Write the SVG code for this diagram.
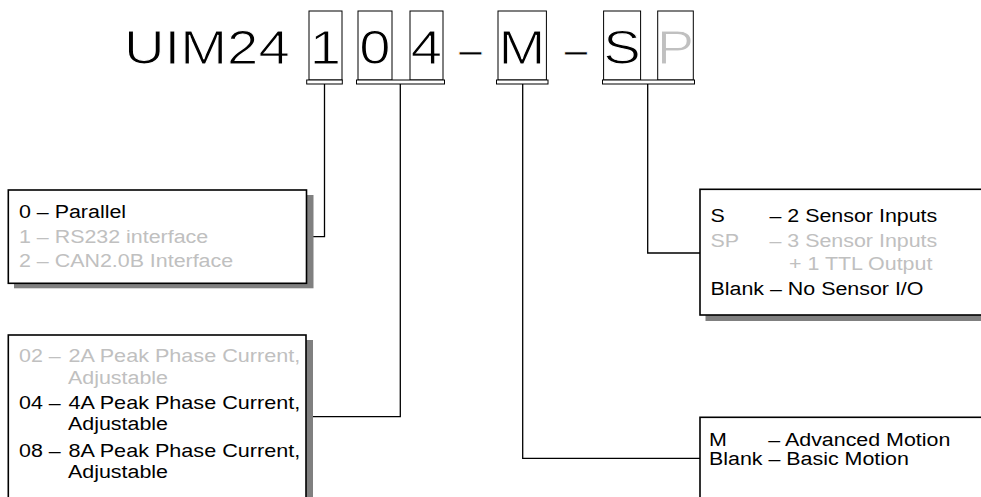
<svg xmlns="http://www.w3.org/2000/svg" width="981" height="497" viewBox="0 0 981 497">
<style>
.t{font-family:"Liberation Sans",Arial,sans-serif;font-size:18px;fill:#000}
.big{font-family:"Liberation Sans",Arial,sans-serif;font-size:48.5px;fill:#000;stroke:#fff;stroke-width:1.1}
.g,.big.g{fill:#c0c0c0}
.dbox{fill:none;stroke:#000;stroke-width:1}
.brk{fill:#fff;stroke:#000;stroke-width:1}
.box{fill:#fff;stroke:#000;stroke-width:1.6}
.sh{fill:#808080}
.con{fill:none;stroke:#000;stroke-width:1.3}
</style>
<rect width="981" height="497" fill="#fff"/>
<g id="code">
<text class="big" transform="translate(124,64) scale(1.16,1)">UIM24</text>
<rect class="dbox" x="309" y="11" width="33" height="69"/>
<rect class="dbox" x="358" y="11" width="34" height="69"/>
<rect class="dbox" x="410" y="11" width="33" height="69"/>
<rect class="dbox" x="498" y="11" width="48.4" height="69"/>
<rect class="dbox" x="603.6" y="11" width="37" height="69"/>
<rect class="dbox" x="657.7" y="11" width="35.6" height="69"/>
<text class="big" text-anchor="middle" transform="translate(325.5,64) scale(1.16,1)">1</text>
<text class="big" text-anchor="middle" transform="translate(375,64) scale(1.16,1)">0</text>
<text class="big" text-anchor="middle" transform="translate(426.5,64) scale(1.16,1)">4</text>
<text class="big" text-anchor="middle" transform="translate(470.5,65.5) scale(0.85,1)">–</text>
<text class="big" text-anchor="middle" transform="translate(522,64) scale(1.16,1)">M</text>
<text class="big" text-anchor="middle" transform="translate(576,65.5) scale(0.85,1)">–</text>
<text class="big" text-anchor="middle" transform="translate(622,64) scale(1.16,1)">S</text>
<text class="big g" text-anchor="middle" transform="translate(675.5,64) scale(1.16,1)">P</text>
<rect class="brk" x="306.7" y="80" width="35.6" height="4"/>
<rect class="brk" x="356.5" y="80" width="88" height="4"/>
<rect class="brk" x="496.5" y="80" width="51.5" height="4"/>
<rect class="brk" x="602.5" y="80" width="92" height="4"/>
</g>
<g id="connectors">
<path class="con" d="M324.5 84V236.7H306.5"/>
<path class="con" d="M400.3 84V416.7H306"/>
<path class="con" d="M522.7 84V458.3H700"/>
<path class="con" d="M647.7 84V253H700"/>
</g>
<g id="interface">
<rect class="sh" x="14" y="195" width="299.5" height="93.3"/>
<rect class="box" x="8.3" y="190" width="298.2" height="93.3"/>
<text class="t" transform="translate(19,217.5) scale(1.19,1)">0 – Parallel</text>
<text class="t g" transform="translate(19,242.5) scale(1.19,1)">1 – RS232 interface</text>
<text class="t g" transform="translate(19,267) scale(1.19,1)">2 – CAN2.0B Interface</text>
</g>
<g id="current">
<rect class="sh" x="14" y="340" width="299" height="200"/>
<rect class="box" x="8.3" y="335" width="297.7" height="200"/>
<text class="t g" transform="translate(19,362.3) scale(1.19,1)">02 –</text>
<text class="t g" transform="translate(68.5,362.3) scale(1.2,1)">2A Peak Phase Current,</text>
<text class="t g" transform="translate(68,383.5) scale(1.19,1)">Adjustable</text>
<text class="t" transform="translate(19,409.3) scale(1.19,1)">04 –</text>
<text class="t" transform="translate(68.5,409.3) scale(1.2,1)">4A Peak Phase Current,</text>
<text class="t" transform="translate(68,430.3) scale(1.19,1)">Adjustable</text>
<text class="t" transform="translate(19,456.5) scale(1.19,1)">08 –</text>
<text class="t" transform="translate(68.5,456.5) scale(1.2,1)">8A Peak Phase Current,</text>
<text class="t" transform="translate(68,478) scale(1.19,1)">Adjustable</text>
</g>
<g id="sensor">
<rect class="sh" x="705.5" y="195" width="400" height="126"/>
<rect class="box" x="700" y="189.3" width="400" height="125.7"/>
<text class="t" transform="translate(710.5,222.3) scale(1.19,1)">S</text>
<text class="t" transform="translate(769.5,222.3) scale(1.19,1)">– 2 Sensor Inputs</text>
<text class="t g" transform="translate(710.5,246.5) scale(1.19,1)">SP</text>
<text class="t g" transform="translate(769.5,246.5) scale(1.19,1)">– 3 Sensor Inputs</text>
<text class="t g" transform="translate(789,270.3) scale(1.19,1)">+ 1 TTL Output</text>
<text class="t" transform="translate(710.5,295) scale(1.19,1)">Blank – No Sensor I/O</text>
</g>
<g id="motion">
<rect class="sh" x="705.5" y="423" width="400" height="200"/>
<rect class="box" x="700" y="417.3" width="400" height="200"/>
<text class="t" transform="translate(709,445.7) scale(1.19,1)">M</text>
<text class="t" transform="translate(768.3,445.7) scale(1.19,1)">– Advanced Motion</text>
<text class="t" transform="translate(709,465) scale(1.19,1)">Blank – Basic Motion</text>
</g>
</svg>
